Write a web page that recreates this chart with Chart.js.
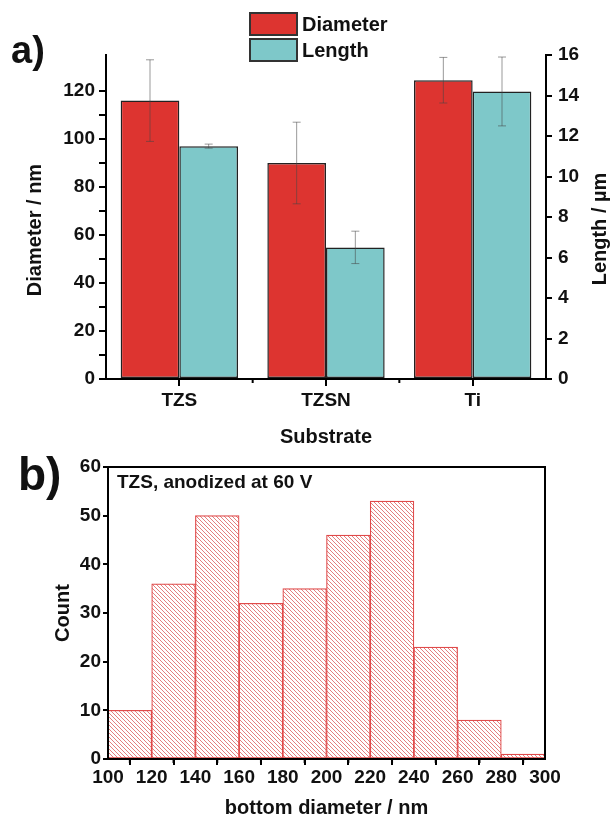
<!DOCTYPE html>
<html>
<head>
<meta charset="utf-8">
<script src="https://cdn.jsdelivr.net/npm/chart.js@4/dist/chart.umd.min.js"></script>
<style>
  body { margin: 0; background: #fff; }
  canvas { position: absolute; left: 0; }
  #top { top: 0; }
  #bottom { top: 440px; }
</style>
</head>
<body>
<canvas id="top" width="611" height="460"></canvas>
<canvas id="bottom" width="611" height="380"></canvas>
<script>
// panel a) values
var substrates = ['TZS', 'TZSN', 'Ti'];
var diameter = [116, 90, 124.5];
var diameterErr = [17, 17, 9.5];
var tubeLength = [11.5, 6.5, 14.2];
var tubeLengthErr = [0.1, 0.8, 1.7];

// panel b) histogram
var binStarts = [100, 120, 140, 160, 180, 200, 220, 240, 260, 280];
var binWidth = 20;
var counts = [10, 36, 50, 32, 35, 46, 53, 23, 8, 1];

Chart.defaults.font.family = '"Liberation Sans", Arial, sans-serif';
Chart.defaults.font.size = 19;
Chart.defaults.font.weight = 'bold';
Chart.defaults.color = '#111';

var axisLine = {display: true, color: '#000', width: 2};

// error bars drawn through each dataset's own y scale
var errorBars = {
  id: 'errorBars',
  afterDatasetsDraw(chart) {
    var ctx = chart.ctx;
    chart.data.datasets.forEach((ds, i) => {
      var meta = chart.getDatasetMeta(i);
      var scale = chart.scales[ds.yAxisID];
      meta.data.forEach((bar, j) => {
        var v = ds.data[j], e = ds.errors[j];
        var y1 = scale.getPixelForValue(v + e), y2 = scale.getPixelForValue(v - e);
        ctx.save();
        ctx.strokeStyle = 'rgba(70,70,70,0.55)';
        ctx.lineWidth = 1;
        ctx.beginPath();
        ctx.moveTo(bar.x, y1); ctx.lineTo(bar.x, y2);
        ctx.moveTo(bar.x - 4, y1); ctx.lineTo(bar.x + 4, y1);
        ctx.moveTo(bar.x - 4, y2); ctx.lineTo(bar.x + 4, y2);
        ctx.stroke();
        ctx.restore();
      });
    });
  }
};

var topDecor = {
  id: 'topDecor',
  afterDraw(chart) {
    var ctx = chart.ctx;
    var x = chart.scales.x, area = chart.chartArea;
    ctx.save();
    // small ticks between categories
    ctx.strokeStyle = '#000';
    ctx.lineWidth = 2;
    for (var i = 1; i < substrates.length; i++) {
      var bx = (x.getPixelForValue(i - 1) + x.getPixelForValue(i)) / 2;
      ctx.beginPath(); ctx.moveTo(bx, area.bottom); ctx.lineTo(bx, area.bottom + 4); ctx.stroke();
    }
    // legend
    chart.data.datasets.forEach((ds, k) => {
      var y = 13 + k * 26;
      ctx.fillStyle = ds.backgroundColor;
      ctx.fillRect(250, y, 47, 22);
      ctx.strokeStyle = '#333';
      ctx.lineWidth = 2;
      ctx.strokeRect(250, y, 47, 22);
      ctx.fillStyle = '#111';
      ctx.font = 'bold 20px "Liberation Sans", Arial, sans-serif';
      ctx.textBaseline = 'middle';
      ctx.fillText(ds.label, 302, y + 12);
    });
    // panel label and y titles
    ctx.fillStyle = '#111';
    ctx.textBaseline = 'alphabetic';
    ctx.font = 'bold 38px "Liberation Sans", Arial, sans-serif';
    ctx.fillText('a)', 11, 63);
    ctx.font = 'bold 20px "Liberation Sans", Arial, sans-serif';
    ctx.textAlign = 'center';
    ctx.textBaseline = 'middle';
    ctx.translate(35, 230); ctx.rotate(-Math.PI / 2);
    ctx.fillText('Diameter / nm', 0, 0);
    ctx.setTransform(1, 0, 0, 1, 0, 0);
    ctx.translate(600, 229); ctx.rotate(-Math.PI / 2);
    ctx.fillText('Length / µm', 0, 0);
    ctx.restore();
  }
};

new Chart(document.getElementById('top'), {
  type: 'bar',
  data: {
    labels: substrates,
    datasets: [
      {label: 'Diameter', data: diameter, errors: diameterErr, yAxisID: 'y',
       backgroundColor: '#dd3430', borderColor: '#222', borderWidth: 1.5},
      {label: 'Length', data: tubeLength, errors: tubeLengthErr, yAxisID: 'y1',
       backgroundColor: '#7ec8c9', borderColor: '#222', borderWidth: 1.5}
    ]
  },
  options: {
    responsive: false,
    animation: false,
    layout: {padding: {top: 55}},
    datasets: {bar: {categoryPercentage: 0.8, barPercentage: 1, borderSkipped: false}},
    plugins: {legend: {display: false}, tooltip: {enabled: false}},
    scales: {
      x: {
        grid: {offset: false, drawOnChartArea: false, tickLength: 7, color: '#000', lineWidth: 2},
        border: axisLine,
        ticks: {padding: 3},
        title: {display: true, text: 'Substrate', font: {size: 20}, padding: {bottom: 11}},
        afterFit: s => { s.height = 81; }
      },
      y: {
        position: 'left', min: 0, max: 135,
        grid: {drawOnChartArea: false, tickLength: 7, color: '#000', lineWidth: 2},
        border: axisLine,
        ticks: {stepSize: 10, padding: 4, callback: v => v % 20 ? '' : v},
        afterBuildTicks: s => { s.ticks = s.ticks.filter(t => t.value % 10 === 0); },
        afterFit: s => { s.width = 106; }
      },
      y1: {
        position: 'right', min: 0, max: 16,
        grid: {drawOnChartArea: false, tickLength: 6, color: '#000', lineWidth: 2},
        border: axisLine,
        ticks: {stepSize: 1, padding: 6, callback: v => v % 2 ? '' : v},
        afterFit: s => { s.width = 65; }
      }
    }
  },
  plugins: [errorBars, topDecor]
});

// hatch pattern for the histogram bars
function hatch() {
  var c = document.createElement('canvas');
  var s = 4;
  c.width = s; c.height = s;
  var g = c.getContext('2d');
  g.fillStyle = '#fff';
  g.fillRect(0, 0, s, s);
  g.strokeStyle = '#e07070';
  g.lineWidth = 0.9;
  g.beginPath();
  g.moveTo(0, 0); g.lineTo(s, s);
  g.moveTo(-1, s - 1); g.lineTo(1, s + 1);
  g.moveTo(s - 1, -1); g.lineTo(s + 1, 1);
  g.stroke();
  return document.getElementById('bottom').getContext('2d').createPattern(c, 'repeat');
}

var bottomDecor = {
  id: 'bottomDecor',
  afterDraw(chart) {
    var ctx = chart.ctx, a = chart.chartArea, x = chart.scales.x;
    ctx.save();
    ctx.strokeStyle = '#000';
    ctx.lineWidth = 2;
    ctx.strokeRect(a.left, a.top, a.right - a.left, a.bottom - a.top);
    // minor ticks halfway between labelled x ticks
    for (var k = 0; k < binStarts.length; k++) {
      var mx = x.getPixelForValue(binStarts[k] + binWidth / 2);
      ctx.beginPath(); ctx.moveTo(mx, a.bottom); ctx.lineTo(mx, a.bottom + 4); ctx.stroke();
    }
    ctx.fillStyle = '#111';
    ctx.font = 'bold 46px "Liberation Sans", Arial, sans-serif';
    ctx.fillText('b)', 18, 50);
    ctx.font = 'bold 19px "Liberation Sans", Arial, sans-serif';
    ctx.fillText('TZS, anodized at 60 V', 117, 48);
    ctx.restore();
  }
};

new Chart(document.getElementById('bottom'), {
  type: 'bar',
  data: {
    datasets: [{
      label: 'Count',
      data: binStarts.map((b, i) => ({x: b + binWidth / 2, y: counts[i]})),
      backgroundColor: hatch(),
      borderColor: '#e04a4a',
      borderWidth: 1.2,
      borderSkipped: false,
      barPercentage: 1,
      categoryPercentage: 1
    }]
  },
  options: {
    responsive: false,
    animation: false,
    layout: {padding: {top: 27, right: 66}},
    plugins: {legend: {display: false}, tooltip: {enabled: false}},
    scales: {
      x: {
        type: 'linear', min: 100, max: 300, offset: false,
        grid: {drawOnChartArea: false, tickLength: 6, color: '#000', lineWidth: 2},
        border: axisLine,
        ticks: {stepSize: 20, padding: 1, autoSkip: false, maxRotation: 0},
        title: {display: true, text: 'bottom diameter / nm', font: {size: 20}, padding: {bottom: 0}},
        afterFit: s => { s.height = 61; }
      },
      y: {
        min: 0, max: 60,
        grid: {drawOnChartArea: false, tickLength: 5, color: '#000', lineWidth: 2},
        border: axisLine,
        ticks: {stepSize: 5, padding: 2, callback: v => v % 10 ? '' : v},
        title: {display: true, text: 'Count', font: {size: 20}, padding: {top: 51}},
        afterFit: s => { s.width = 108; }
      }
    }
  },
  plugins: [bottomDecor]
});
</script>
</body>
</html>
